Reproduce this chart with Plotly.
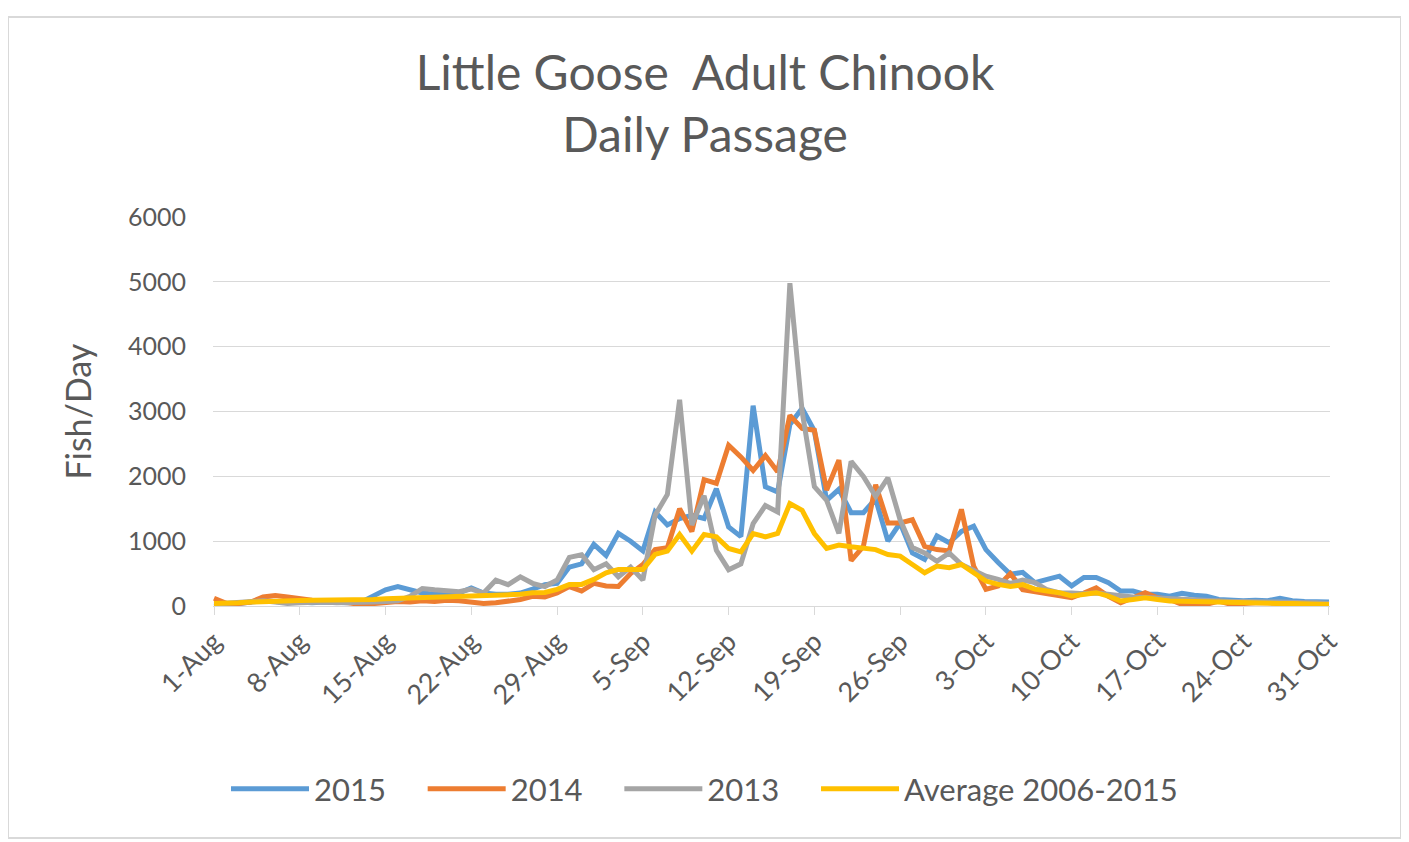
import pandas as pd
import plotly.graph_objects as go

start_date = "2015-08-01"
n_days = 92
dates = pd.date_range(start_date, periods=n_days, freq="D")

tick_labels = ["1-Aug", "8-Aug", "15-Aug", "22-Aug", "29-Aug", "5-Sep", "12-Sep",
               "19-Sep", "26-Sep", "3-Oct", "10-Oct", "17-Oct", "24-Oct", "31-Oct"]
tick_dates = pd.date_range(start_date, periods=len(tick_labels), freq="7D")

y2015 = [50, 30, 40, 60, 80, 70, 50, 60, 50, 60, 50, 50, 60, 150, 250, 300, 250, 200,
         180, 180, 200, 280, 200, 180, 180, 200, 260, 330, 350, 600, 650, 950, 780, 1120,
         1000, 850, 1450, 1250, 1350, 1400, 1350, 1810, 1220, 1070, 3090, 1840, 1760, 2800,
         3050, 2700, 1630, 1800, 1440, 1440, 1650, 1000, 1280, 820, 720, 1080, 975, 1150,
         1230, 870, 670, 490, 520, 360, 410, 460, 310, 440, 440, 360, 230, 230, 180, 180,
         150, 195, 165, 150, 100, 90, 80, 90, 80, 120, 80, 70, 70, 60]

y2014 = [120, 40, 40, 60, 140, 160, 140, 110, 90, 70, 60, 50, 20, 40, 60, 70, 60, 80,
         70, 90, 80, 60, 40, 50, 70, 100, 150, 140, 200, 300, 230, 350, 310, 300, 500,
         640, 870, 900, 1500, 1150, 1950, 1890, 2480, 2300, 2090, 2320, 2070, 2940, 2740,
         2710, 1790, 2250, 700, 920, 1870, 1280, 1280, 1330, 920, 870, 850, 1490, 615,
         256, 310, 500, 250, 220, 200, 154, 128, 200, 280, 150, 50, 128, 205, 128, 100,
         25, 0, 25, 77, 25, 40, 50, 50, 40, 50, 40, 40, 30]

y2013 = [30, 40, 50, 60, 80, 60, 40, 50, 60, 60, 50, 50, 60, 60, 70, 80, 150, 270,
         250, 230, 220, 260, 200, 400, 330, 450, 350, 300, 400, 750, 790, 560, 650, 450,
         600, 400, 1400, 1720, 3180, 1250, 1700, 860, 560, 650, 1270, 1550, 1450, 4980,
         3000, 1840, 1630, 1120, 2230, 2000, 1690, 1975, 1330, 900, 820, 690, 820, 640,
         560, 460, 410, 350, 400, 360, 250, 200, 200, 190, 200, 180, 150, 140, 130, 120,
         110, 100, 90, 80, 80, 70, 70, 60, 60, 60, 50, 50, 50, 40]

y_avg = [40, 40, 50, 60, 70, 77, 80, 85, 90, 90, 95, 100, 100, 100, 110, 115, 120, 125,
         128, 135, 140, 145, 150, 154, 165, 180, 205, 210, 256, 333, 333, 410, 513, 564,
         564, 564, 795, 846, 1103, 846, 1103, 1067, 887, 836, 1118, 1067, 1118, 1580,
         1477, 1118, 887, 939, 913, 900, 870, 795, 770, 640, 513, 615, 590, 640, 513,
         385, 333, 300, 330, 260, 230, 205, 154, 180, 205, 154, 77, 100, 128, 100, 77,
         75, 70, 60, 50, 50, 50, 45, 45, 40, 40, 35, 30, 25]

series_names = ["2015", "2014", "2013", "Average 2006-2015"]
series_values = [y2015, y2014, y2013, y_avg]
series_colors = ["#5B9BD5", "#ED7D31", "#A5A5A5", "#FFC000"]

PAD = "\u00a0" * 4
fig = go.Figure()
for i, (name, vals, col) in enumerate(zip(series_names, series_values, series_colors)):
    label = name + (PAD if i < len(series_names) - 1 else "")
    fig.add_trace(go.Scatter(x=dates, y=vals, mode="lines", name=label,
                             line=dict(color=col, width=5)))

text_col = "#595959"
font_family = "Lato, 'Open Sans', sans-serif"

W, H = 1409, 842
L, R, T, B = 205, 87, 209, 244
pw, ph = W - L - R, H - T - B

fig.update_layout(
    width=W, height=H,
    margin=dict(l=L, r=R, t=T, b=B),
    paper_bgcolor="white", plot_bgcolor="white",
    font=dict(family=font_family, color=text_col),
    title=dict(text="Little Goose  Adult Chinook<br>Daily Passage",
               x=697 / W, xanchor="center", y=1 - 82 / H, yanchor="middle",
               font=dict(size=48, color=text_col, family=font_family)),
    showlegend=True,
    legend=dict(orientation="h", x=(218 - L) / pw, xanchor="left",
                y=(H - B - 781) / ph, yanchor="middle",
                font=dict(size=31, color=text_col), itemwidth=78,
                bgcolor="rgba(0,0,0,0)"),
)

fig.update_xaxes(
    range=[dates[0] - pd.Timedelta(hours=2), dates[-1] + pd.Timedelta(hours=2)],
    tickmode="array", tickvals=tick_dates, ticktext=tick_labels,
    tickangle=-45, tickfont=dict(size=27, color=text_col),
    showgrid=False, showline=True, linecolor="#d9d9d9", linewidth=1,
    ticks="outside", ticklen=8, tickcolor="#d9d9d9", zeroline=False,
)
fig.update_yaxes(
    range=[0, 6000], dtick=1000, tickfont=dict(size=25, color=text_col),
    showgrid=True, gridcolor="#d9d9d9", gridwidth=1, zeroline=False,
    showline=False, ticklabelstandoff=26,
    title=dict(text="Fish/Day", font=dict(size=34, color=text_col), standoff=26),
)

# chart frame
fig.add_shape(type="rect", xref="paper", yref="paper",
              x0=(0 - L) / pw, x1=(1393 - L) / pw,
              y0=(H - B - 830) / ph, y1=(H - B - 9) / ph,
              line=dict(color="#d9d9d9", width=2), fillcolor="rgba(0,0,0,0)", layer="below")

fig.write_html("out.html")
